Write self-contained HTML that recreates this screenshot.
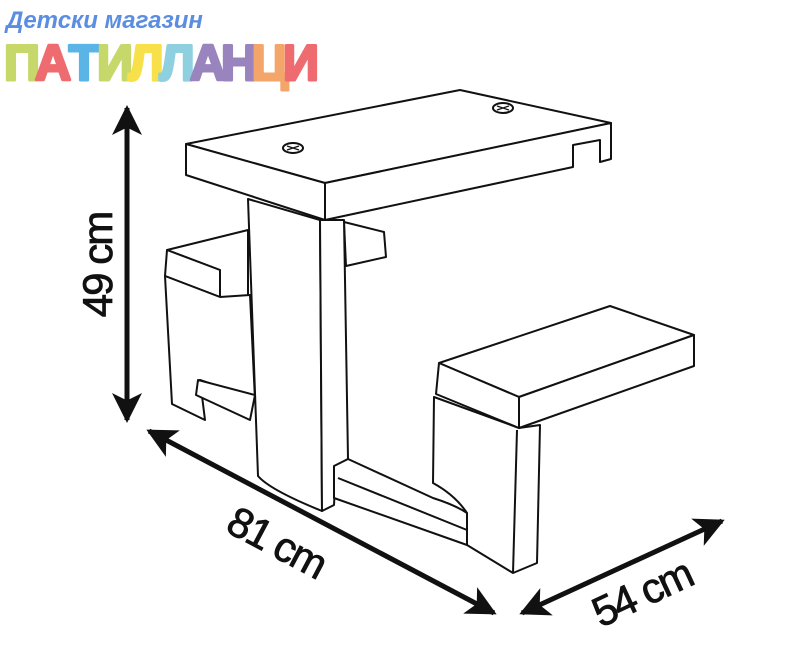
<!DOCTYPE html>
<html><head><meta charset="utf-8"><style>
html,body{margin:0;padding:0;background:#fff;width:800px;height:666px;overflow:hidden}
svg{display:block}
</style></head><body>
<svg width="800" height="666" viewBox="0 0 800 666" xmlns="http://www.w3.org/2000/svg">
<defs>
<marker id="ah" viewBox="0 0 10 10" refX="9" refY="5" markerWidth="6" markerHeight="6" orient="auto-start-reverse"><path d="M0,0 L10,5 L0,10 L2.5,5 z" fill="#111"/></marker>
</defs>
<!-- logo -->
<text x="6" y="28" font-family="Liberation Sans, sans-serif" font-weight="bold" font-size="24" fill="#5b8de0" font-style="italic">Детски магазин</text>
<g font-family="Liberation Sans, sans-serif" font-weight="bold" font-size="50" text-anchor="middle" stroke-width="3" stroke-linejoin="round">
<text x="22" y="80" fill="#c6d86a" stroke="#c6d86a">П</text>
<text x="53" y="80" fill="#ee6b70" stroke="#ee6b70">А</text>
<text x="84" y="80" fill="#5ab4e6" stroke="#5ab4e6">Т</text>
<text x="115" y="80" fill="#c6d86a" stroke="#c6d86a">И</text>
<text x="146" y="80" fill="#f7e04a" stroke="#f7e04a">Л</text>
<text x="177" y="80" fill="#8fd0e0" stroke="#8fd0e0">Л</text>
<text x="208" y="80" fill="#9a84be" stroke="#9a84be">А</text>
<text x="239" y="80" fill="#9a84be" stroke="#9a84be">Н</text>
<text x="270" y="80" fill="#f4a66a" stroke="#f4a66a">Ц</text>
<text x="301" y="80" fill="#ee6b70" stroke="#ee6b70">И</text>
</g>
<!-- table drawing -->
<g fill="#fff" stroke="#111" stroke-width="2" stroke-linejoin="round">
<!-- back bench -->
<path d="M167,250 L248,230 L248,300 L220,297 L220,270 L167,250 Z"/>
<path d="M167,250 L165,276 L220,297 L220,270 Z"/>
<path d="M165,276 L172,404 L205,420 L200,380 L230,390 L255,400 L250,295 L220,297 Z"/>
<path d="M344,222 L384,232 L386,257 L346,266 Z"/>
<path d="M198,380 L196,395 L250,420 L255,395 Z"/>
<!-- pedestal -->
<path d="M248,199 L258,476 Q270,490 322,511 L320,220 Z"/>
<path d="M320,220 L344,220 L348,459 L336,466 L334,505 L322,511 Z"/>
<!-- front bench leg -->
<path d="M434,397 L433,483 Q455,495 467,513 L467,545 L513,573 L537,563 L540,425 L519,428 Z"/>
<path d="M517,430 L513,573"/>
<!-- base foot -->
<path d="M334,466 L348,459 L433,498 Q455,505 467,513 L467,545 L334,498 Z"/>
<path d="M338,478 L467,530"/>
<!-- front bench -->
<path d="M439,363 L610,306 L694,335 L519,397 Z"/>
<path d="M439,363 L519,397 L519,428 L436,394 Z"/>
<path d="M519,397 L694,335 L694,366 L519,428 Z"/>
<!-- tabletop -->
<path d="M186,144 L460,90 L611,123 L325,183 Z"/>
<path d="M186,144 L186,175 L325,220 L325,183 Z"/>
<path d="M325,183 L611,123 L611,159 L600,162 L600,140 L573,145 L573,167 L325,220 Z"/>
<ellipse cx="293" cy="148" rx="10" ry="5"/>
<ellipse cx="503" cy="108" rx="10" ry="5"/>
<path d="M287,146 L299,150 M287,150 L299,146 M497,106 L509,110 M497,110 L509,106" stroke-width="1.3"/>
</g>
<!-- dimension arrows -->
<g stroke="#111" stroke-width="5" fill="none">
<line x1="127" y1="108" x2="127" y2="420" marker-start="url(#ah)" marker-end="url(#ah)"/>
<line x1="149" y1="431" x2="494" y2="613" marker-start="url(#ah)" marker-end="url(#ah)"/>
<line x1="522" y1="613" x2="722" y2="521" marker-start="url(#ah)" marker-end="url(#ah)"/>
</g>
<g font-family="Liberation Sans, sans-serif" font-size="42" fill="#111" text-anchor="middle" stroke="#111" stroke-width="0.8">
<text transform="translate(112,265) rotate(-90)" letter-spacing="-2">49 cm</text>
<text transform="translate(270,555) rotate(28)" letter-spacing="-2">81 cm</text>
<text transform="translate(648,606) rotate(-25)" letter-spacing="-2">54 cm</text>
</g>
</svg>
</body></html>
